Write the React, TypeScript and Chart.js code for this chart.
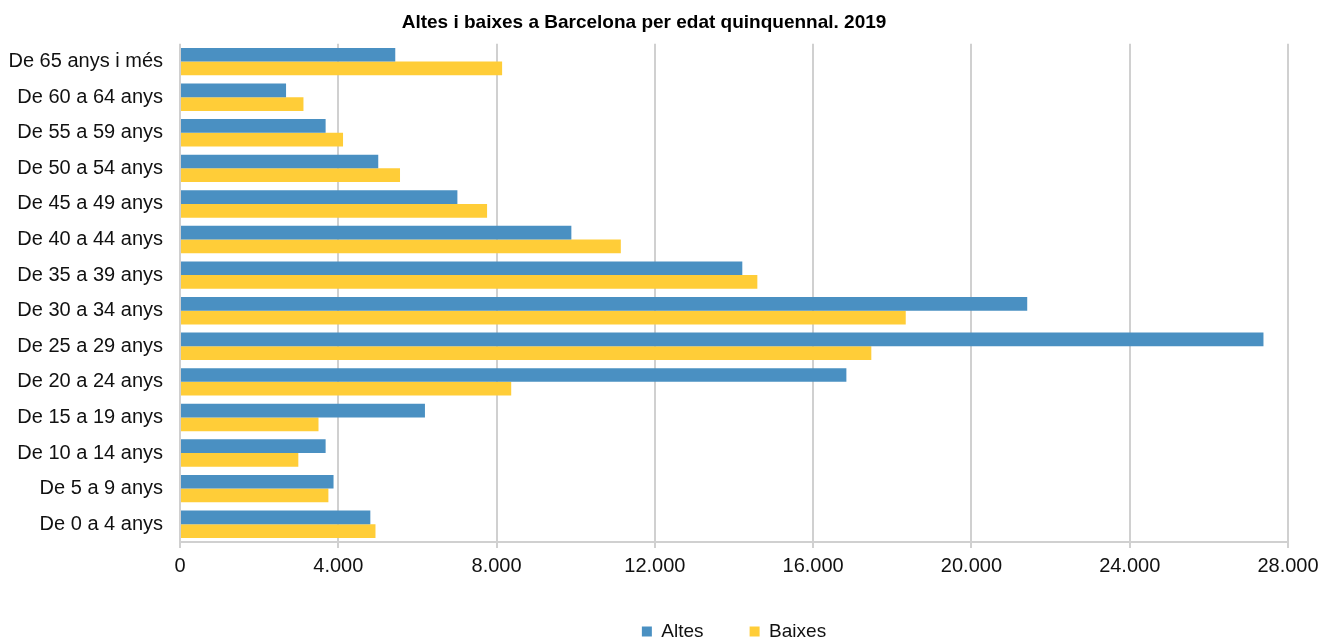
import React, { useEffect, useRef } from "react";
import { Chart, registerables } from "chart.js";

Chart.register(...registerables);

const titleText = "Altes i baixes a Barcelona per edat quinquennal. 2019";

const categories = [
  "De 65 anys i més",
  "De 60 a 64 anys",
  "De 55 a 59 anys",
  "De 50 a 54 anys",
  "De 45 a 49 anys",
  "De 40 a 44 anys",
  "De 35 a 39 anys",
  "De 30 a 34 anys",
  "De 25 a 29 anys",
  "De 20 a 24 anys",
  "De 15 a 19 anys",
  "De 10 a 14 anys",
  "De 5 a 9 anys",
  "De 0 a 4 anys",
];

const altes = [5440, 2680, 3680, 5010, 7010, 9890, 14210, 21410, 27380, 16840, 6190, 3680, 3880, 4810];
const baixes = [8140, 3120, 4120, 5560, 7760, 11140, 14590, 18340, 17470, 8370, 3500, 2990, 3750, 4940];

const xTickValues = [0, 4000, 8000, 12000, 16000, 20000, 24000, 28000];

const seriesNames = ["Altes", "Baixes"];
const seriesColors = ["#4A90C2", "#FFCD38"];

function formatThousands(v: number): string {
  const s = Math.round(v).toString();
  return s.replace(/\B(?=(\d{3})+(?!\d))/g, ".");
}

export default function App() {
  const canvasRef = useRef<HTMLCanvasElement | null>(null);

  useEffect(() => {
    const canvas = canvasRef.current;
    if (!canvas) return;
    Chart.defaults.font.family = "'Liberation Sans', Arial, sans-serif";
    Chart.defaults.color = "#111111";

    const chart = new Chart(canvas, {
      type: "bar",
      data: {
        labels: categories,
        datasets: [
          {
            label: seriesNames[0],
            data: altes,
            backgroundColor: seriesColors[0],
            borderWidth: 0,
            categoryPercentage: 0.77,
            barPercentage: 1,
          },
          {
            label: seriesNames[1],
            data: baixes,
            backgroundColor: seriesColors[1],
            borderWidth: 0,
            categoryPercentage: 0.77,
            barPercentage: 1,
          },
        ],
      },
      options: {
        indexAxis: "y",
        animation: false,
        responsive: false,
        devicePixelRatio: 1,
        layout: { padding: { left: 0, right: 32, top: 0, bottom: 0 } },
        plugins: {
          title: {
            display: true,
            text: titleText,
            color: "#000000",
            font: { size: 19, weight: "bold" },
            padding: { top: 11, bottom: 10 },
          },
          legend: {
            display: true,
            position: "bottom",
            fullSize: false,
            labels: {
              boxWidth: 10,
              boxHeight: 10,
              padding: 46,
              color: "#111111",
              font: { size: 19 },
            },
          },
          tooltip: { enabled: false },
        },
        scales: {
          x: {
            type: "linear",
            position: "bottom",
            min: xTickValues[0],
            max: xTickValues[xTickValues.length - 1],
            afterBuildTicks: (scale: any) => {
              scale.ticks = xTickValues.map((v) => ({ value: v }));
            },
            afterFit: (scale: any) => {
              scale.height = 34;
              scale.paddingLeft = 0;
              scale.paddingRight = 0;
            },
            grid: {
              display: true,
              color: "#D0D0D0",
              lineWidth: 2,
              drawTicks: true,
              tickLength: 6,
            },
            border: { display: true, color: "#D0D0D0", width: 2 },
            ticks: {
              padding: 6,
              maxRotation: 0,
              autoSkip: false,
              color: "#111111",
              font: { size: 20 },
              callback: (v: any) => formatThousands(Number(v)),
            },
          },
          y: {
            type: "category",
            position: "left",
            afterFit: (scale: any) => {
              scale.width = 180;
            },
            grid: { display: false, drawTicks: false },
            border: { display: false },
            ticks: {
              padding: 17,
              autoSkip: false,
              color: "#111111",
              font: { size: 20 },
            },
          },
        },
      },
    } as any);

    return () => {
      chart.destroy();
    };
  }, []);

  return (
    <div
      style={{
        position: "fixed",
        left: 0,
        top: 0,
        width: 1320,
        height: 640,
        overflow: "hidden",
        background: "#ffffff",
      }}
    >
      <canvas ref={canvasRef} width={1320} height={651} style={{ display: "block" }} />
    </div>
  );
}
